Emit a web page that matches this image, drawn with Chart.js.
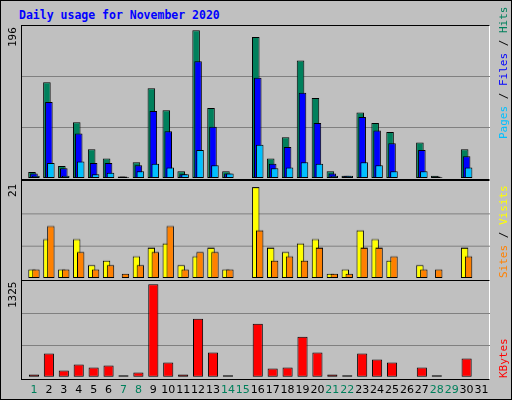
<!DOCTYPE html>
<html>
<head>
<meta charset="utf-8">
<script src="https://cdn.jsdelivr.net/npm/chart.js@4"></script>
<style>
  body { margin: 0; background: #fff; }
  #wrap { position: relative; width: 510px; height: 398px; background: #c0c0c0; border: 1px solid #000; overflow: hidden; }
  .frame { position: absolute; left: 20px; width: 469px; border: 1px solid #000; border-right-color: #fff; box-sizing: border-box; }
  canvas { position: absolute; left: 0; }
  .title { position: absolute; left: 18px; top: 7px; font: bold 11.5px "DejaVu Sans Mono", monospace; color: #0000ff; }
  .rot { position: absolute; font: 11px "DejaVu Sans Mono", monospace; transform-origin: 0 0; transform: rotate(-90deg); white-space: nowrap; }
</style>
</head>
<body>
<div id="wrap">
  <div class="title">Daily usage for November 2020</div>
  <div class="frame" style="top:24px;height:155px"></div>
  <div class="frame" style="top:179px;height:101px"></div>
  <div class="frame" style="top:279px;height:100px"></div>
  <canvas id="c1"></canvas>
  <canvas id="c2"></canvas>
  <canvas id="c3"></canvas>
  <div class="rot" style="left:5px;top:46px;color:#000">196</div>
  <div class="rot" style="left:5px;top:196px;color:#000">21</div>
  <div class="rot" style="left:5px;top:307px;color:#000">1325</div>
  <div class="rot" style="left:496px;top:138px"><span style="color:#00c0ff">Pages</span> / <span style="color:#0000ff">Files</span> / <span style="color:#00805c">Hits</span></div>
  <div class="rot" style="left:496px;top:277px"><span style="color:#ff8000">Sites</span> / <span style="color:#ffff00">Visits</span></div>
  <div class="rot" style="left:496px;top:377px"><span style="color:#ff0000">KBytes</span></div>
</div>
<script>
const days = Array.from({ length: 31 }, (_, i) => String(i + 1));
const weekend = ['1', '7', '8', '14', '15', '21', '22', '28', '29'];

const hits   = [8, 127, 16, 74, 38, 26, 2, 21, 119, 90, 9, 196, 93, 9, 0, 187, 26, 54, 156, 106, 9, 3, 87, 73, 61, 0, 47, 3, 0, 38, 0];
const files  = [6, 101, 13, 59, 20, 20, 2, 17, 89, 62, 5, 155, 68, 6, 0, 133, 19, 41, 113, 73, 6, 3, 81, 63, 46, 0, 37, 2, 0, 29, 0];
const pages  = [3, 20, 3, 22, 5, 7, 1, 9, 19, 14, 5, 37, 17, 6, 0, 44, 13, 14, 21, 19, 3, 3, 21, 17, 9, 0, 9, 1, 0, 14, 0];
const visits = [2, 9, 2, 9, 3, 4, 0, 5, 7, 8, 3, 5, 7, 2, 0, 21, 7, 6, 8, 9, 1, 2, 11, 9, 4, 0, 3, 0, 0, 7, 0];
const sites  = [2, 12, 2, 6, 2, 3, 1, 3, 6, 12, 2, 6, 6, 2, 0, 11, 4, 5, 4, 7, 1, 1, 7, 7, 5, 0, 2, 2, 0, 5, 0];
const kbytes = [33, 331, 90, 175, 132, 161, 19, 61, 1325, 203, 33, 828, 345, 19, 0, 757, 118, 132, 572, 345, 33, 19, 331, 246, 203, 0, 132, 19, 0, 260, 0];

// grid lines across the whole frame width
const fullGrid = {
    id: 'fullGrid',
    beforeDatasetsDraw(chart) {
        const { ctx, scales: { y } } = chart;
        ctx.save();
        ctx.strokeStyle = '#808080';
        ctx.lineWidth = 1;
        [1, 2].forEach(k => {
            const py = Math.round(y.getPixelForValue(y.max * k / 3)) + 0.5;
            ctx.beginPath();
            ctx.moveTo(21, py);
            ctx.lineTo(489, py);
            ctx.stroke();
        });
        ctx.restore();
    }
};

// draw first dataset first so the later (right-shifted) bars sit on top
let ownDraw = false;
const forwardDraw = {
    id: 'forwardDraw',
    beforeDatasetDraw() {
        if (!ownDraw) return false;
    },
    afterDatasetsDraw(chart) {
        ownDraw = true;
        chart.getSortedVisibleDatasetMetas().forEach(m => m.controller.draw());
        ownDraw = false;
    }
};

function panel(id, top, height, datasets, max, bar, showX) {
    const el = document.getElementById(id);
    el.style.top = top + 'px';
    el.width = 512;
    el.height = height;
    el.style.width = '512px';
    el.style.height = height + 'px';
    return new Chart(el, {
        type: 'bar',
        data: { labels: days, datasets },
        plugins: [fullGrid, forwardDraw],
        options: {
            responsive: false,
            animation: false,
            devicePixelRatio: 1,
            layout: { padding: { left: 25.5, right: 24, top: 0, bottom: 0 } },
            datasets: { bar: { ...bar, borderColor: '#000', borderWidth: 1, borderSkipped: false } },
            plugins: { legend: { display: false }, tooltip: { enabled: false } },
            scales: {
                x: {
                    display: showX,
                    grid: { display: false, drawTicks: false },
                    border: { display: false },
                    afterFit: s => { if (showX) s.height = 24.3; },
                    ticks: {
                        padding: 7,
                        autoSkip: false,
                        maxRotation: 0,
                        font: { family: 'DejaVu Sans', size: 11 },
                        color: c => weekend.includes(days[c.index]) ? '#00805c' : '#000'
                    }
                },
                y: { display: false, min: 0, max }
            }
        }
    });
}

panel('c1', 24, 153, [
    { data: hits, backgroundColor: '#00805c' },
    { data: files, backgroundColor: '#0000ff' },
    { data: pages, backgroundColor: '#00c0ff' }
], 203, { categoryPercentage: 0.395, barPercentage: 3.85 }, false);

panel('c2', 180, 96.5, [
    { data: visits, backgroundColor: '#ffff00' },
    { data: sites, backgroundColor: '#ff8000' }
], 22.4, { categoryPercentage: 0.53, barPercentage: 1.87 }, false);

panel('c3', 280, 120, [
    { data: kbytes, backgroundColor: '#ff0000' }
], 1370, { categoryPercentage: 1, barPercentage: 0.68 }, true);
</script>
</body>
</html>
